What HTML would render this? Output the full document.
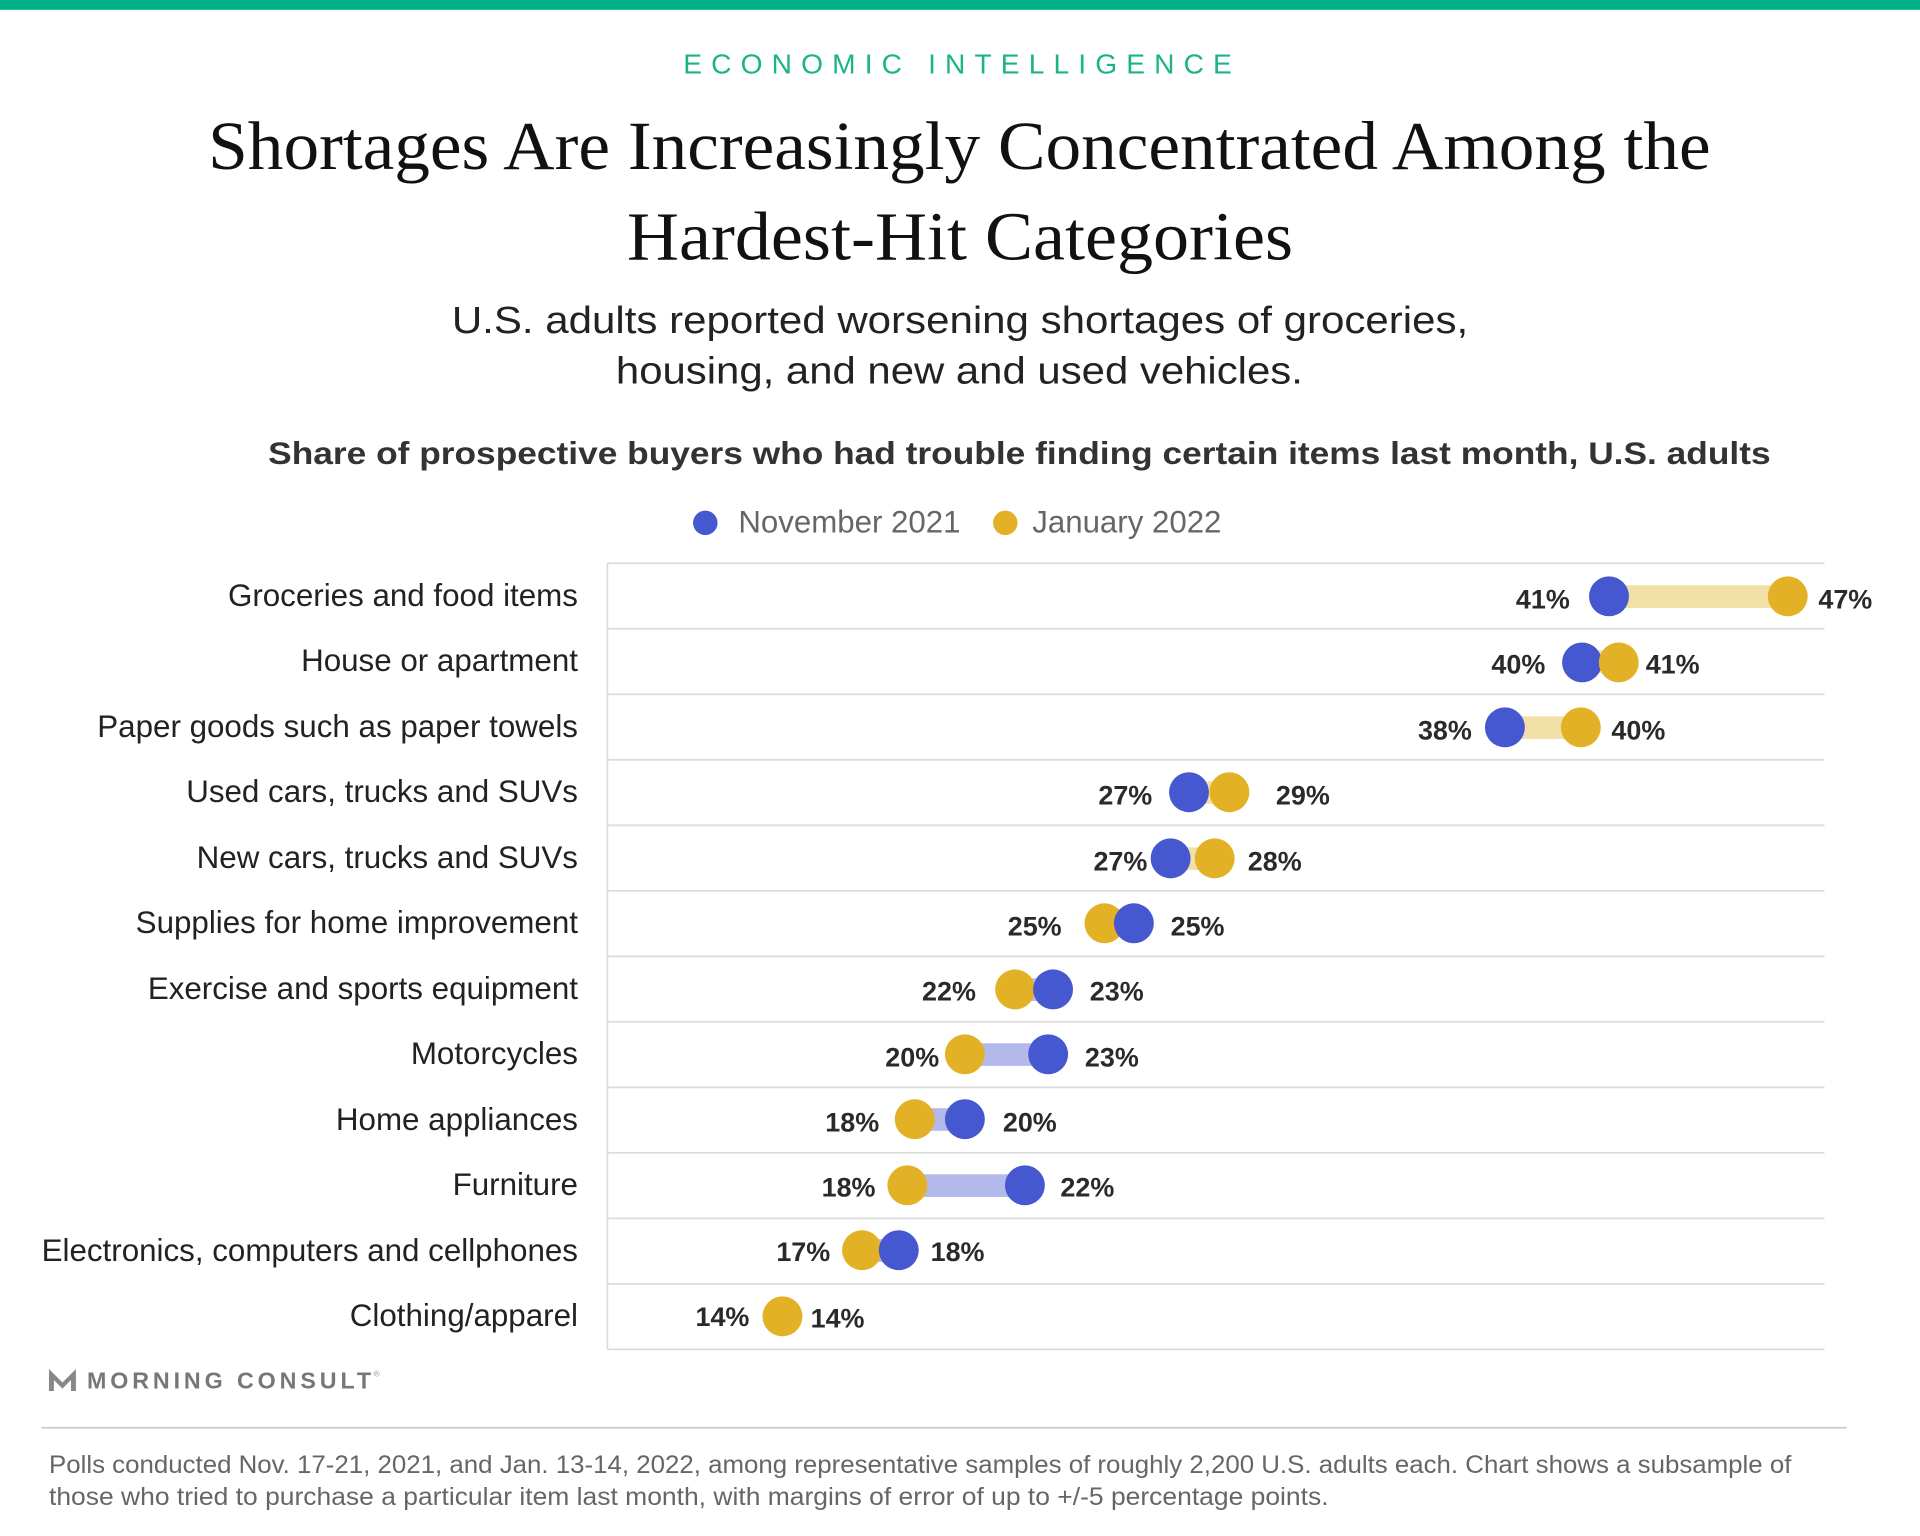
<!DOCTYPE html>
<html><head><meta charset="utf-8"><style>
html,body{margin:0;padding:0;background:#fff;}
svg{display:block}
.s{font-family:"Liberation Sans",sans-serif}
</style></head><body>
<svg width="1920" height="1536" viewBox="0 0 1568 1254.4" xmlns="http://www.w3.org/2000/svg">
<rect x="0" y="0" width="1568" height="8" fill="#00b386"/>
<text x="558" y="60" class="s" font-size="23" textLength="448" lengthAdjust="spacing" fill="#1db38a">ECONOMIC INTELLIGENCE</text>
<text x="170" y="138" font-family="Liberation Serif,serif" font-size="56" textLength="1227" lengthAdjust="spacingAndGlyphs" fill="#111">Shortages Are Increasingly Concentrated Among the</text>
<text x="512" y="212" font-family="Liberation Serif,serif" font-size="56" textLength="544" lengthAdjust="spacingAndGlyphs" fill="#111">Hardest-Hit Categories</text>
<text x="369" y="272" class="s" font-size="31" textLength="830" lengthAdjust="spacingAndGlyphs" fill="#222">U.S. adults reported worsening shortages of groceries,</text>
<text x="503" y="313" class="s" font-size="31" textLength="561" lengthAdjust="spacingAndGlyphs" fill="#222">housing, and new and used vehicles.</text>
<text x="219" y="379" class="s" font-size="26" font-weight="bold" textLength="1227" lengthAdjust="spacingAndGlyphs" fill="#333">Share of prospective buyers who had trouble finding certain items last month, U.S. adults</text>
<circle cx="576" cy="427" r="10" fill="#4658cf"/>
<text x="603" y="435" class="s" font-size="25.5" fill="#666">November 2021</text>
<circle cx="821" cy="427" r="10" fill="#e2b125"/>
<text x="843" y="435" class="s" font-size="25.5" fill="#666">January 2022</text>
<g stroke="#ddd" stroke-width="1.5">
<line x1="496" y1="460" x2="496" y2="1102"/>
<line x1="496" y1="460" x2="1490" y2="460"/>
<line x1="496" y1="513.5" x2="1490" y2="513.5"/>
<line x1="496" y1="567" x2="1490" y2="567"/>
<line x1="496" y1="620.5" x2="1490" y2="620.5"/>
<line x1="496" y1="674" x2="1490" y2="674"/>
<line x1="496" y1="727.5" x2="1490" y2="727.5"/>
<line x1="496" y1="781" x2="1490" y2="781"/>
<line x1="496" y1="834.5" x2="1490" y2="834.5"/>
<line x1="496" y1="888" x2="1490" y2="888"/>
<line x1="496" y1="941.5" x2="1490" y2="941.5"/>
<line x1="496" y1="995" x2="1490" y2="995"/>
<line x1="496" y1="1048.5" x2="1490" y2="1048.5"/>
<line x1="496" y1="1102" x2="1490" y2="1102"/>
</g>
<g class="s" font-size="25.6" fill="#222" text-anchor="end">
<text x="472" y="495">Groceries and food items</text>
<text x="472" y="548">House or apartment</text>
<text x="472" y="602">Paper goods such as paper towels</text>
<text x="472" y="655">Used cars, trucks and SUVs</text>
<text x="472" y="709">New cars, trucks and SUVs</text>
<text x="472" y="762">Supplies for home improvement</text>
<text x="472" y="816">Exercise and sports equipment</text>
<text x="472" y="869">Motorcycles</text>
<text x="472" y="923">Home appliances</text>
<text x="472" y="976">Furniture</text>
<text x="472" y="1030">Electronics, computers and cellphones</text>
<text x="472" y="1083">Clothing/apparel</text>
</g>
<g>
<rect x="1314" y="478" width="146" height="18.5" fill="#f3e0a8"/>
<rect x="1292" y="531" width="30" height="18.5" fill="#f3e0a8"/>
<rect x="1229" y="585" width="62" height="18.5" fill="#f3e0a8"/>
<rect x="971" y="638" width="33" height="18.5" fill="#f3e0a8"/>
<rect x="956" y="692" width="36" height="18.5" fill="#f3e0a8"/>
<rect x="902" y="745" width="24" height="18.5" fill="#b4b9ec"/>
<rect x="829" y="799" width="31" height="18.5" fill="#b4b9ec"/>
<rect x="788" y="852" width="68" height="18.5" fill="#b4b9ec"/>
<rect x="747" y="905" width="41" height="18.5" fill="#b4b9ec"/>
<rect x="741" y="959" width="96" height="18.5" fill="#b4b9ec"/>
<rect x="704" y="1012" width="30" height="18.5" fill="#b4b9ec"/>
</g>
<g>
<circle cx="1314" cy="487" r="16.3" fill="#4658cf"/><circle cx="1460" cy="487" r="16.3" fill="#e2b125"/>
<circle cx="1292" cy="541" r="16.3" fill="#4658cf"/><circle cx="1322" cy="541" r="16.3" fill="#e2b125"/>
<circle cx="1229" cy="594" r="16.3" fill="#4658cf"/><circle cx="1291" cy="594" r="16.3" fill="#e2b125"/>
<circle cx="971" cy="647" r="16.3" fill="#4658cf"/><circle cx="1004" cy="647" r="16.3" fill="#e2b125"/>
<circle cx="956" cy="701" r="16.3" fill="#4658cf"/><circle cx="992" cy="701" r="16.3" fill="#e2b125"/>
<circle cx="902" cy="754" r="16.3" fill="#e2b125"/><circle cx="926" cy="754" r="16.3" fill="#4658cf"/>
<circle cx="829" cy="808" r="16.3" fill="#e2b125"/><circle cx="860" cy="808" r="16.3" fill="#4658cf"/>
<circle cx="788" cy="861" r="16.3" fill="#e2b125"/><circle cx="856" cy="861" r="16.3" fill="#4658cf"/>
<circle cx="747" cy="914" r="16.3" fill="#e2b125"/><circle cx="788" cy="914" r="16.3" fill="#4658cf"/>
<circle cx="741" cy="968" r="16.3" fill="#e2b125"/><circle cx="837" cy="968" r="16.3" fill="#4658cf"/>
<circle cx="704" cy="1021" r="16.3" fill="#e2b125"/><circle cx="734" cy="1021" r="16.3" fill="#4658cf"/>
<circle cx="639" cy="1075" r="16.3" fill="#e2b125"/>
</g>
<g class="s" font-size="22" font-weight="bold" fill="#2a2a2a">
<g text-anchor="end">
<text x="1282" y="497">41%</text>
<text x="1262" y="550">40%</text>
<text x="1202" y="604">38%</text>
<text x="941" y="657">27%</text>
<text x="937" y="711">27%</text>
<text x="867" y="764">25%</text>
<text x="797" y="817">22%</text>
<text x="767" y="871">20%</text>
<text x="718" y="924">18%</text>
<text x="715" y="977">18%</text>
<text x="678" y="1030">17%</text>
<text x="612" y="1083">14%</text>
</g>
<text x="1485" y="497">47%</text>
<text x="1344" y="550">41%</text>
<text x="1316" y="604">40%</text>
<text x="1042" y="657">29%</text>
<text x="1019" y="711">28%</text>
<text x="956" y="764">25%</text>
<text x="890" y="817">23%</text>
<text x="886" y="871">23%</text>
<text x="819" y="924">20%</text>
<text x="866" y="977">22%</text>
<text x="760" y="1030">18%</text>
<text x="662" y="1084">14%</text>
</g>
<path d="M40 1118 L51 1129 L62 1118 L62 1136 L58 1136 L58 1127 L51 1134 L44 1127 L44 1136 L40 1136 Z" fill="#888"/>
<text x="71" y="1134" class="s" font-size="19" font-weight="bold" textLength="232" lengthAdjust="spacing" fill="#777">MORNING CONSULT</text>
<text x="305" y="1124" class="s" font-size="7" fill="#999">®</text>
<line x1="34" y1="1166" x2="1508" y2="1166" stroke="#ccc" stroke-width="1.5"/>
<text x="40" y="1203" class="s" font-size="20.5" textLength="1423" lengthAdjust="spacingAndGlyphs" fill="#666">Polls conducted Nov. 17-21, 2021, and Jan. 13-14, 2022, among representative samples of roughly 2,200 U.S. adults each. Chart shows a subsample of</text>
<text x="40" y="1229" class="s" font-size="20.5" textLength="1045" lengthAdjust="spacingAndGlyphs" fill="#666">those who tried to purchase a particular item last month, with margins of error of up to +/-5 percentage points.</text>
</svg>
</body></html>
